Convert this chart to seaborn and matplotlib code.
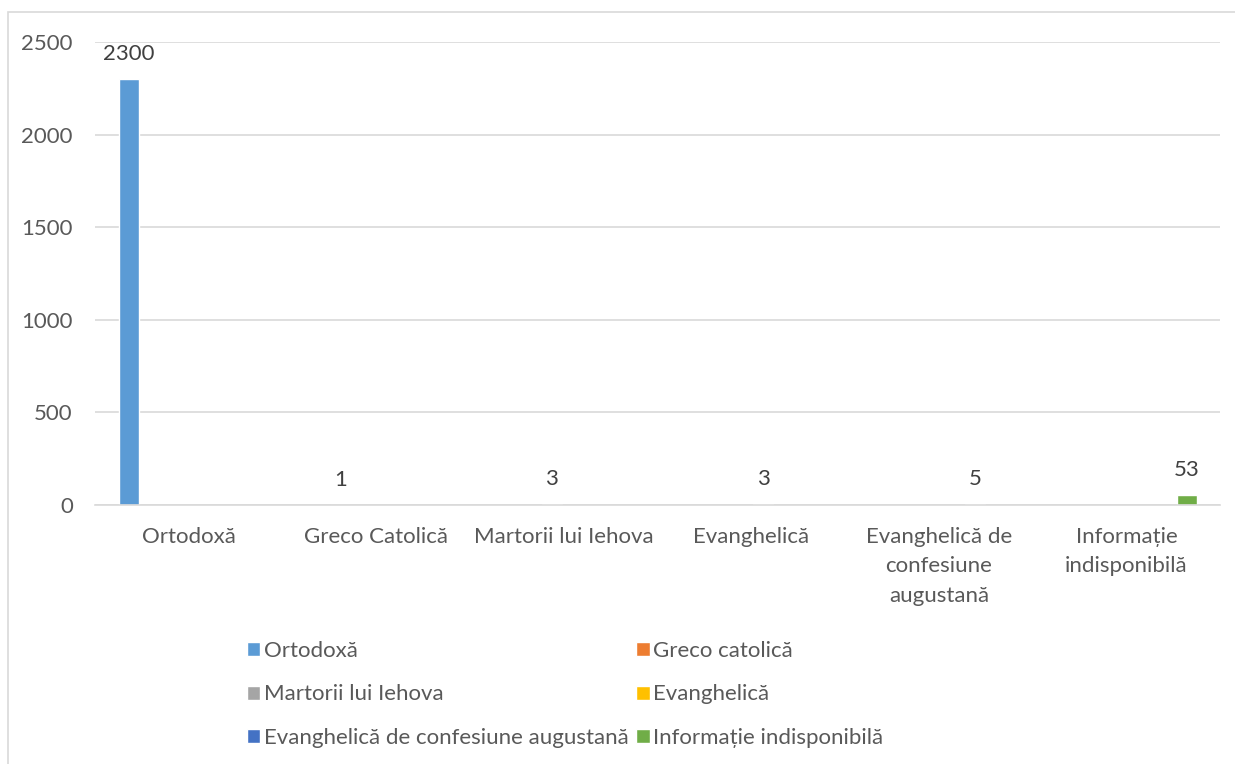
import pandas as pd
import matplotlib.pyplot as plt
import matplotlib.patches as mpatches
import seaborn as sns

# categories on the x axis and the series (legend) each belongs to
categories = ['Ortodoxă', 'Greco Catolică', 'Martorii lui Iehova',
              'Evanghelică', 'Evanghelică de\nconfesiune\naugustană',
              'Informație\nindisponibilă']
series = ['Ortodoxă', 'Greco catolică', 'Martorii lui Iehova',
          'Evanghelică', 'Evanghelică de confesiune augustană',
          'Informație indisponibilă']
counts = [2300, 1, 3, 3, 5, 53]
colors = ['#5B9BD5', '#ED7D31', '#A5A5A5', '#FFC000', '#4472C4', '#70AD47']
y_ticks = [0, 500, 1000, 1500, 2000, 2500]


def main():
    sns.set_theme(style='white')
    plt.rcParams['font.family'] = ['Lato', 'DejaVu Sans']

    df = pd.DataFrame({'cat': categories, 'series': series, 'count': counts})

    fig = plt.figure(figsize=(12.35, 7.64), dpi=100)
    ax = fig.add_axes([0.077, 0.339, 0.911, 0.606])

    sns.barplot(data=df, x='cat', y='count', hue='series', hue_order=series,
                order=categories, palette=colors, width=0.77, gap=0.17,
                dodge=True, saturation=1, ax=ax, legend=True)

    for cont in ax.containers:
        ax.bar_label(cont, fmt='%g', padding=11, fontsize=16, color='#404040')

    ax.set_ylim(0, 2500)
    ax.set_yticks(y_ticks)
    ax.yaxis.grid(True, color='#D9D9D9', linewidth=1.2)
    ax.set_axisbelow(True)
    for s in ['left', 'right', 'top']:
        ax.spines[s].set_visible(False)
    ax.spines['bottom'].set_color('#D9D9D9')
    ax.spines['bottom'].set_linewidth(1.2)
    ax.set_xlabel('')
    ax.set_ylabel('')
    ax.tick_params(axis='y', length=0, pad=16, labelsize=16,
                   labelcolor='#595959')
    ax.tick_params(axis='x', length=0, pad=15.5, labelsize=16,
                   labelcolor='#595959')
    for lbl in ax.get_xticklabels():
        lbl.set_linespacing(1.6)

    # legend below, two columns, filled row by row
    handles, labels = ax.get_legend_handles_labels()
    idx = [0, 2, 4, 1, 3, 5]
    ax.legend([handles[i] for i in idx], [labels[i] for i in idx],
              ncol=2, frameon=False, fontsize=16, labelcolor='#595959',
              loc='upper left', bbox_to_anchor=(236 / 1235, 1 - 630 / 764),
              bbox_transform=fig.transFigure, handlelength=0.6,
              handleheight=0.6, handletextpad=0.15, columnspacing=0.35,
              labelspacing=1.05, borderpad=0)

    # light chart-area border (left and top visible)
    fig.patches.append(mpatches.Rectangle(
        (8 / 1235, -0.01), 1.02, 1 - 12 / 764 + 0.01,
        transform=fig.transFigure, fill=False, edgecolor='#D9D9D9',
        linewidth=1.2))

    plt.savefig('out.png', dpi=100)


if __name__ == '__main__':
    main()
